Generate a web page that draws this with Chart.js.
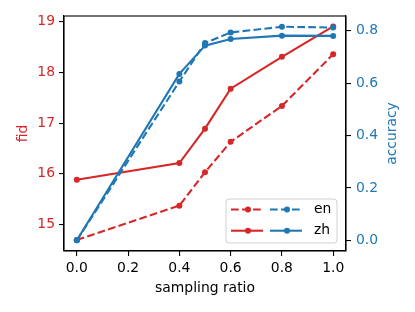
<!DOCTYPE html>
<html>
<head>
<meta charset="utf-8">
<script src="https://cdn.jsdelivr.net/npm/chart.js@4"></script>
<style>
  html, body { margin: 0; padding: 0; background: #fff; }
  #wrap { width: 415px; height: 312px; }
</style>
</head>
<body>
<div id="wrap"><canvas id="chart" width="415" height="312"></canvas></div>
<script>
// dữ liệu
const samplingRatio = [0.0, 0.4, 0.5, 0.6, 0.8, 1.0];
const fidEn = [14.69, 15.37, 16.03, 16.63, 17.34, 18.36];
const fidZh = [15.88, 16.21, 16.89, 17.68, 18.31, 18.91];
const accEn = [0.0, 0.606, 0.753, 0.793, 0.815, 0.812];
const accZh = [0.0, 0.635, 0.743, 0.768, 0.781, 0.780];
const xTicks = [0.0, 0.2, 0.4, 0.6, 0.8, 1.0];
const fidTicks = [15, 16, 17, 18, 19];
const accTicks = [0.0, 0.2, 0.4, 0.6, 0.8];
const legendLabels = ['en', 'zh'];

const RED = '#d62728';
const BLUE = '#1f77b4';
const FONT = 'DejaVu Sans';
const FSIZE = 13.9;
const DASH = [7.7, 3.3];

const toPoints = ys => samplingRatio.map((x, i) => ({ x: x, y: ys[i] }));

const lineStyle = (color, dashed, axis) => ({
    yAxisID: axis,
    borderColor: color,
    backgroundColor: color,
    borderWidth: 2.1,
    borderDash: dashed ? DASH : [],
    pointRadius: 3,
    pointHoverRadius: 3,
    pointBorderWidth: 0,
    tension: 0,
    fill: false
});

// khung viền + chú thích + tiêu đề trục phải
const extrasPlugin = {
    id: 'extras',
    afterDraw(chart) {
        const ctx = chart.ctx;
        const a = chart.chartArea;
        ctx.save();
        ctx.strokeStyle = '#000';
        ctx.lineWidth = 1.1;
        ctx.strokeRect(a.left, a.top, a.right - a.left, a.bottom - a.top);

        // tiêu đề trục phải (đọc từ dưới lên)
        ctx.fillStyle = BLUE;
        ctx.font = FSIZE + 'px "' + FONT + '"';
        ctx.textAlign = 'center';
        ctx.textBaseline = 'middle';
        ctx.translate(392, (a.top + a.bottom) / 2);
        ctx.rotate(-Math.PI / 2);
        ctx.fillText('accuracy', 0, 0);
        ctx.restore();

        // legend
        ctx.save();
        const bx = 226, by = 199, bw = 111, bh = 44, r = 3;
        ctx.beginPath();
        ctx.roundRect(bx, by, bw, bh, r);
        ctx.fillStyle = 'rgba(255,255,255,0.8)';
        ctx.fill();
        ctx.strokeStyle = '#d0d0d0';
        ctx.lineWidth = 1;
        ctx.stroke();

        const rows = [209.5, 230.7];
        rows.forEach((y, i) => {
            const dashed = i === 0;
            [[231, 263, RED], [270, 302, BLUE]].forEach(h => {
                ctx.beginPath();
                ctx.setLineDash(dashed ? DASH : []);
                ctx.strokeStyle = h[2];
                ctx.lineWidth = 2.1;
                ctx.moveTo(h[0], y);
                ctx.lineTo(h[1], y);
                ctx.stroke();
                ctx.setLineDash([]);
                ctx.beginPath();
                ctx.fillStyle = h[2];
                ctx.arc((h[0] + h[1]) / 2 + 1, y, 3, 0, Math.PI * 2);
                ctx.fill();
            });
            ctx.fillStyle = '#000';
            ctx.font = FSIZE + 'px "' + FONT + '"';
            ctx.textAlign = 'left';
            ctx.textBaseline = 'middle';
            ctx.fillText(legendLabels[i], 314, y);
        });
        ctx.restore();
    }
};

const tickGrid = {
    drawOnChartArea: false,
    drawTicks: true,
    tickLength: 5,
    tickColor: '#000',
    lineWidth: 1.1
};

new Chart(document.getElementById('chart'), {
    type: 'line',
    data: {
        datasets: [
            Object.assign({ label: 'en acc', data: toPoints(accEn) }, lineStyle(BLUE, true, 'yAcc')),
            Object.assign({ label: 'zh acc', data: toPoints(accZh) }, lineStyle(BLUE, false, 'yAcc')),
            Object.assign({ label: 'en fid', data: toPoints(fidEn) }, lineStyle(RED, true, 'yFid')),
            Object.assign({ label: 'zh fid', data: toPoints(fidZh) }, lineStyle(RED, false, 'yFid'))
        ]
    },
    options: {
        responsive: false,
        animation: false,
        events: [],
        layout: { padding: { top: 16, left: 0, right: 0, bottom: 0 } },
        plugins: { legend: { display: false }, tooltip: { enabled: false } },
        scales: {
            x: {
                type: 'linear',
                min: -0.05,
                max: 1.05,
                afterBuildTicks: s => { s.ticks = xTicks.map(v => ({ value: v })); },
                afterFit: s => { s.height = 61; },
                grid: tickGrid,
                border: { display: true, color: '#000', width: 1.1 },
                ticks: {
                    color: '#000',
                    padding: 4,
                    maxRotation: 0,
                    font: { family: FONT, size: FSIZE },
                    callback: v => Number(v).toFixed(1)
                },
                title: {
                    display: true,
                    text: 'sampling ratio',
                    color: '#000',
                    font: { family: FONT, size: FSIZE },
                    padding: { top: 0, bottom: 15.5 }
                }
            },
            yFid: {
                type: 'linear',
                position: 'left',
                min: 14.474,
                max: 19.116,
                afterBuildTicks: s => { s.ticks = fidTicks.map(v => ({ value: v })); },
                afterFit: s => { s.width = 64; },
                grid: tickGrid,
                border: { display: true, color: '#000', width: 1.1 },
                ticks: {
                    color: RED,
                    padding: 4,
                    font: { family: FONT, size: FSIZE },
                    callback: v => String(v)
                },
                title: {
                    display: true,
                    text: 'fid',
                    color: RED,
                    font: { family: FONT, size: FSIZE },
                    padding: { top: 15, bottom: 0 }
                }
            },
            yAcc: {
                type: 'linear',
                position: 'right',
                min: -0.0408,
                max: 0.856,
                afterBuildTicks: s => { s.ticks = accTicks.map(v => ({ value: v })); },
                afterFit: s => { s.width = 69; },
                grid: tickGrid,
                border: { display: true, color: '#000', width: 1.1 },
                ticks: {
                    color: BLUE,
                    padding: 5,
                    font: { family: FONT, size: FSIZE },
                    callback: v => Number(v).toFixed(1)
                }
            }
        }
    },
    plugins: [extrasPlugin]
});
</script>
</body>
</html>
